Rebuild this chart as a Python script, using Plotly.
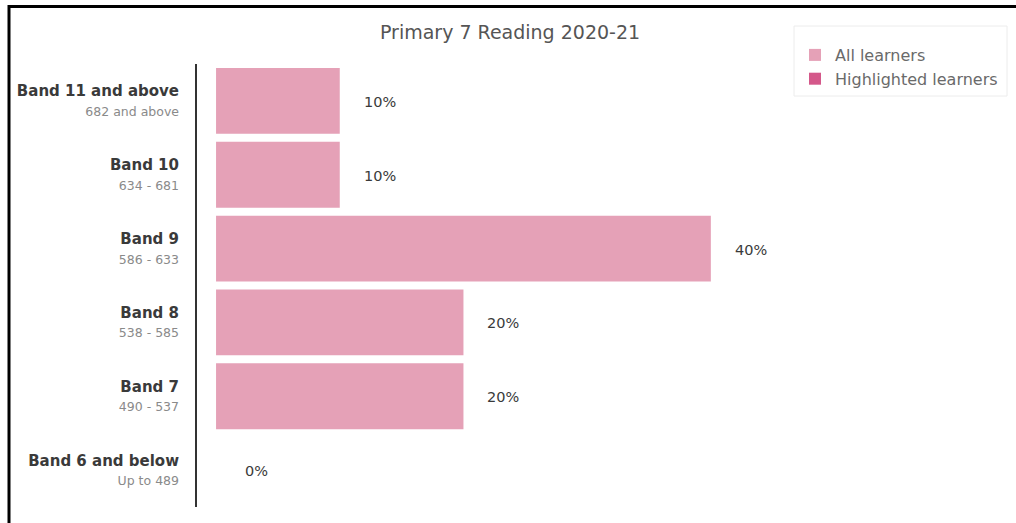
import plotly.graph_objects as go

# Reading bands, with the score range shown under each band name
bands = ["Band 11 and above", "Band 10", "Band 9", "Band 8", "Band 7", "Band 6 and below"]
ranges = ["682 and above", "634 - 681", "586 - 633", "538 - 585", "490 - 537", "Up to 489"]
all_learners = [10, 10, 40, 20, 20, 0]
highlighted_learners = [None, None, None, None, None, None]

tick_text = [
    f"<b>{b}</b><br><span style='font-size:12.5px;color:#8a8a8a'>{r}</span>"
    for b, r in zip(bands, ranges)
]

FONT = "DejaVu Sans, Verdana, sans-serif"
W, H = 1016, 523
L, R, T, B = 197, 16, 64, 16
pw, ph = W - L - R, H - T - B


def px_x(p):
    return (p - L) / pw


def px_y(p):
    return (H - B - p) / ph


fig = go.Figure()
fig.add_trace(go.Bar(
    name="All learners", y=bands, x=all_learners, orientation="h",
    marker=dict(color="#e5a1b7", line=dict(width=0)),
    hoverinfo="skip",
))
fig.add_trace(go.Bar(
    name="Highlighted learners", y=bands, x=highlighted_learners, orientation="h",
    marker=dict(color="#d4588a", line=dict(width=0)),
    hoverinfo="skip",
))

# percentage labels beside each bar
for b, v in zip(bands, all_learners):
    fig.add_annotation(
        x=v, y=b, text=f"{v}%", showarrow=False, xanchor="center", yanchor="middle",
        xshift=40, yshift=-1, font=dict(family=FONT, size=14.5, color="#3a3a3a"),
    )

# legend box
fig.add_shape(type="rect", xref="paper", yref="paper",
              x0=px_x(794), x1=px_x(1007), y0=px_y(96), y1=px_y(26),
              line=dict(color="#ececec", width=1), fillcolor="rgba(0,0,0,0)")
# frame lines on top and left edge
fig.add_shape(type="line", xref="paper", yref="paper",
              x0=px_x(8), x1=px_x(1016), y0=px_y(6.5), y1=px_y(6.5),
              line=dict(color="#000000", width=3))
fig.add_shape(type="line", xref="paper", yref="paper",
              x0=px_x(9), x1=px_x(9), y0=px_y(5), y1=px_y(523),
              line=dict(color="#000000", width=3))

fig.update_layout(
    width=W, height=H,
    margin=dict(l=L, r=R, t=T, b=B, pad=0),
    paper_bgcolor="white", plot_bgcolor="white",
    font=dict(family=FONT, color="#444444"),
    title=dict(text="Primary 7 Reading 2020-21", x=0.502, xanchor="center",
               y=1 - 32 / H, yanchor="middle",
               font=dict(family=FONT, size=19, color="#555555")),
    barmode="overlay", bargap=0.108,
    showlegend=True,
    legend=dict(x=px_x(795), xanchor="left", y=px_y(38), yanchor="top",
                bgcolor="rgba(0,0,0,0)", borderwidth=0,
                font=dict(family=FONT, size=16, color="#6a6a6a"), tracegroupgap=0),
    xaxis=dict(range=[-1.54, -1.54 + pw / 12.37], showgrid=False, zeroline=False,
               showticklabels=False, showline=False, fixedrange=True),
    yaxis=dict(categoryorder="array", categoryarray=bands, autorange="reversed",
               tickmode="array", tickvals=bands, ticktext=tick_text,
               tickfont=dict(family=FONT, size=15, color="#3a3a3a"),
               showline=True, linecolor="#333333", linewidth=2,
               showgrid=False, zeroline=False, ticks="", ticklabelstandoff=13,
               fixedrange=True),
)

fig.write_html("out.html")
